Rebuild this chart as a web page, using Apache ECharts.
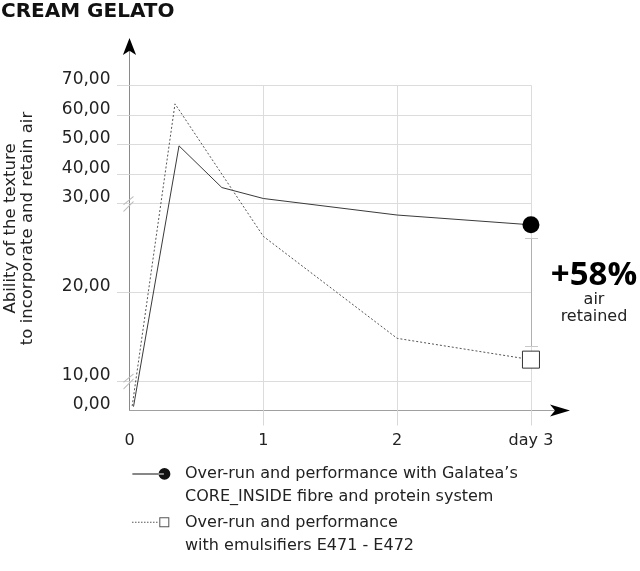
<!DOCTYPE html>
<html>
<head>
<meta charset="utf-8">
<script src="https://cdn.jsdelivr.net/npm/echarts@6/dist/echarts.min.js"></script>
<style>
html,body{margin:0;padding:0;background:#fff;}
#chart{width:640px;height:571px;}
</style>
</head>
<body>
<div id="chart"></div>
<script>
// ---- data ----
const seriesNames = [
  "Over-run and performance with Galatea’s\nCORE_INSIDE fibre and protein system",
  "Over-run and performance\nwith emulsifiers E471 - E472"
];
const solidX = [0.03, 0.37, 0.69, 1, 2, 3];
const solidY = [1.3, 49.5, 35.4, 31.7, 28.7, 27.6];
const dottedX = [0.02, 0.34, 1, 2, 3];
const dottedY = [1.5, 63.7, 26.3, 14.8, 12.4];
const yTickValues = [0, 10, 20, 30, 40, 50, 60, 70];
const yTickLabels = ['0,00', '10,00', '20,00', '30,00', '40,00', '50,00', '60,00', '70,00'];
const xTickValues = [0, 1, 2, 3];
const xTickLabels = ['0', '1', '2', 'day 3'];
const breakValues = [10, 30];
const annotationMain = '+58%';
const annotationSub = ['air', 'retained'];

// broken y scale: 0-10 compressed, 10-30 expanded, 30-70 compressed
function toD(v) {
  if (v <= 10) return v / 10;
  if (v <= 30) return 1 + (v - 10) * 3 / 10;
  return 7 + (v - 30) / 10;
}
const yTickD = yTickValues.map(toD);
const X_MAX = 3.217, Y_MAX = 12.31;
const FONT = '"DejaVu Sans"';

const solidData = solidX.map((x, i) => ({
  value: [x, toD(solidY[i])],
  symbol: i === solidX.length - 1 ? 'circle' : 'none'
}));
const dottedData = dottedX.map((x, i) => ({
  value: [x, toD(dottedY[i])],
  symbol: i === dottedX.length - 1 ? 'rect' : 'none'
}));

// grid lines through the library's own scale
const gridLines = [];
yTickD.slice(1).forEach(d => gridLines.push([{coord: [0, d]}, {coord: [xTickValues[xTickValues.length - 1], d]}]));
xTickValues.slice(1).forEach(x => gridLines.push([{coord: [x, 0]}, {coord: [x, yTickD[yTickD.length - 1]]}]));

const ICON_SOLID = 'path://M0 5L32 5L32 6L0 6Z M26.6 5.5A6 6 0 1 0 38.6 5.5A6 6 0 1 0 26.6 5.5Z M48 34';
let dashes = '';
for (let x = 0; x < 26; x += 3) dashes += 'M' + x + ' 5L' + (x + 1.5) + ' 5L' + (x + 1.5) + ' 6L' + x + ' 6Z ';
const ICON_DOTTED = 'path://' + dashes + 'M27.3 0.5L37.3 0.5L37.3 10.5L27.3 10.5Z M28.3 1.5L28.3 9.5L36.3 9.5L36.3 1.5Z M48 34';

const chart = echarts.init(document.getElementById('chart'), null, {renderer: 'canvas'});
chart.setOption({
  animation: false,
  backgroundColor: '#fff',
  title: {
    text: 'CREAM GELATO', left: 1, top: 2, padding: 0,
    textStyle: {fontFamily: FONT, fontSize: 20, fontWeight: 'bold', color: '#111'}
  },
  grid: {left: 129.5, right: 80, top: 46.5, bottom: 160.5, containLabel: false, outerBoundsMode: 'none'},
  legend: {
    orient: 'vertical', left: 132, top: 462, padding: 0, itemGap: 3,
    itemWidth: 48, itemHeight: 34, selectedMode: false,
    textStyle: {fontFamily: FONT, fontSize: 16, lineHeight: 23, color: '#222'},
    data: [
      {name: seriesNames[0], icon: ICON_SOLID, itemStyle: {color: '#111', borderWidth: 0}},
      {name: seriesNames[1], icon: ICON_DOTTED, itemStyle: {color: '#555', borderWidth: 0}}
    ]
  },
  xAxis: {
    type: 'value', min: 0, max: X_MAX,
    axisLine: {show: true, lineStyle: {color: '#a0a0a0', width: 1}},
    axisTick: {show: true, customValues: xTickValues.slice(1), length: 15, lineStyle: {color: '#d8d8d8'}},
    axisLabel: {
      customValues: xTickValues, margin: 22,
      fontFamily: FONT, fontSize: 16, color: '#222',
      formatter: v => xTickLabels[xTickValues.indexOf(Math.round(v))]
    },
    splitLine: {show: false}
  },
  yAxis: {
    type: 'value', min: 0, max: Y_MAX,
    name: 'Ability of the texture\nto incorporate and retain air',
    nameLocation: 'middle', nameRotate: 90, nameGap: 93, nameMoveOverlap: false,
    nameTextStyle: {fontFamily: FONT, fontSize: 16.5, lineHeight: 17.5, color: '#222'},
    axisLine: {show: true, lineStyle: {color: '#8a8a8a', width: 1}},
    axisTick: {show: true, customValues: yTickD.slice(1), length: 12.5, lineStyle: {color: '#d8d8d8'}},
    axisLabel: {
      customValues: yTickD, margin: 19,
      fontFamily: FONT, fontSize: 17, color: '#222', verticalAlign: 'bottom', lineHeight: 11,
      formatter: v => {
        let best = 0;
        yTickD.forEach((d, i) => { if (Math.abs(d - v) < Math.abs(yTickD[best] - v)) best = i; });
        return yTickLabels[best];
      }
    },
    splitLine: {show: false}
  },
  series: [
    {
      type: 'line', name: '__grid', data: [], z: 1, silent: true,
      markLine: {
        silent: true, symbol: 'none', label: {show: false}, z: 1,
        lineStyle: {color: '#dcdcdc', width: 1, type: 'solid'},
        emphasis: {disabled: true},
        data: gridLines
      },
      markPoint: {
        silent: true, label: {show: false}, z: 6,
        data: [
          {coord: [0, Y_MAX], symbol: 'path://M0 0L6.6 17L0 12.7L-6.6 17Z', symbolSize: [13.2, 17], itemStyle: {color: '#000'}},
          {coord: [X_MAX, 0], symbol: 'path://M0 0L6 20L0 15L-6 20Z', symbolSize: [12, 20], symbolRotate: -90, itemStyle: {color: '#000'}}
        ].concat(breakValues.map(v => ({
          coord: [0, toD(v)], symbol: 'path://M0 8.3L10 0M0 15L10 5', symbolSize: [10, 15], symbolOffset: [-1, 0.5],
          itemStyle: {color: 'none', borderColor: '#bdbdbd', borderWidth: 1}
        })))
      }
    },
    {
      type: 'custom', name: '__bracket', z: 2, silent: true, clip: false,
      data: [[xTickValues[xTickValues.length - 1], toD(solidY[solidY.length - 1]), toD(dottedY[dottedY.length - 1])]],
      renderItem: function (params, api) {
        const p1 = api.coord([api.value(0), api.value(1)]);
        const p2 = api.coord([api.value(0), api.value(2)]);
        const x = Math.round(p1[0]) + 0.5;
        const top = Math.round(p1[1] + 13.3) + 0.5, bot = Math.round(p2[1] - 13.8) + 0.5;
        const st = {stroke: '#b0b0b0', lineWidth: 1};
        return {type: 'group', children: [
          {type: 'line', shape: {x1: x, y1: top, x2: x, y2: bot}, style: st},
          {type: 'line', shape: {x1: x - 6.5, y1: top, x2: x + 6.5, y2: top}, style: {stroke: '#c8c8c8', lineWidth: 1}},
          {type: 'line', shape: {x1: x - 6.5, y1: bot, x2: x + 6.5, y2: bot}, style: {stroke: '#c8c8c8', lineWidth: 1}}
        ]};
      }
    },
    {
      type: 'line', name: seriesNames[0], data: solidData, z: 3,
      symbolSize: 17, showAllSymbol: true,
      lineStyle: {color: '#3a3a3a', width: 1},
      itemStyle: {color: '#000', borderWidth: 0},
      emphasis: {disabled: true}
    },
    {
      type: 'line', name: seriesNames[1], data: dottedData, z: 3,
      symbolSize: 17, showAllSymbol: true,
      lineStyle: {color: '#555', width: 1, type: [2, 2]},
      itemStyle: {color: '#fff', borderColor: '#333', borderWidth: 1},
      emphasis: {disabled: true}
    }
  ],
  graphic: [
    {type: 'text', x: 594, y: 276, style: {text: annotationMain, font: 'bold 33px "Open Sans"', fill: '#000', textAlign: 'center', textVerticalAlign: 'middle', align: 'center', verticalAlign: 'middle'}},
    {type: 'text', x: 594, y: 300, style: {text: annotationSub[0], font: '16px "DejaVu Sans"', fill: '#222', textAlign: 'center', textVerticalAlign: 'middle', align: 'center', verticalAlign: 'middle'}},
    {type: 'text', x: 594, y: 317, style: {text: annotationSub[1], font: '16px "DejaVu Sans"', fill: '#222', textAlign: 'center', textVerticalAlign: 'middle', align: 'center', verticalAlign: 'middle'}}
  ]
});
</script>
</body>
</html>
